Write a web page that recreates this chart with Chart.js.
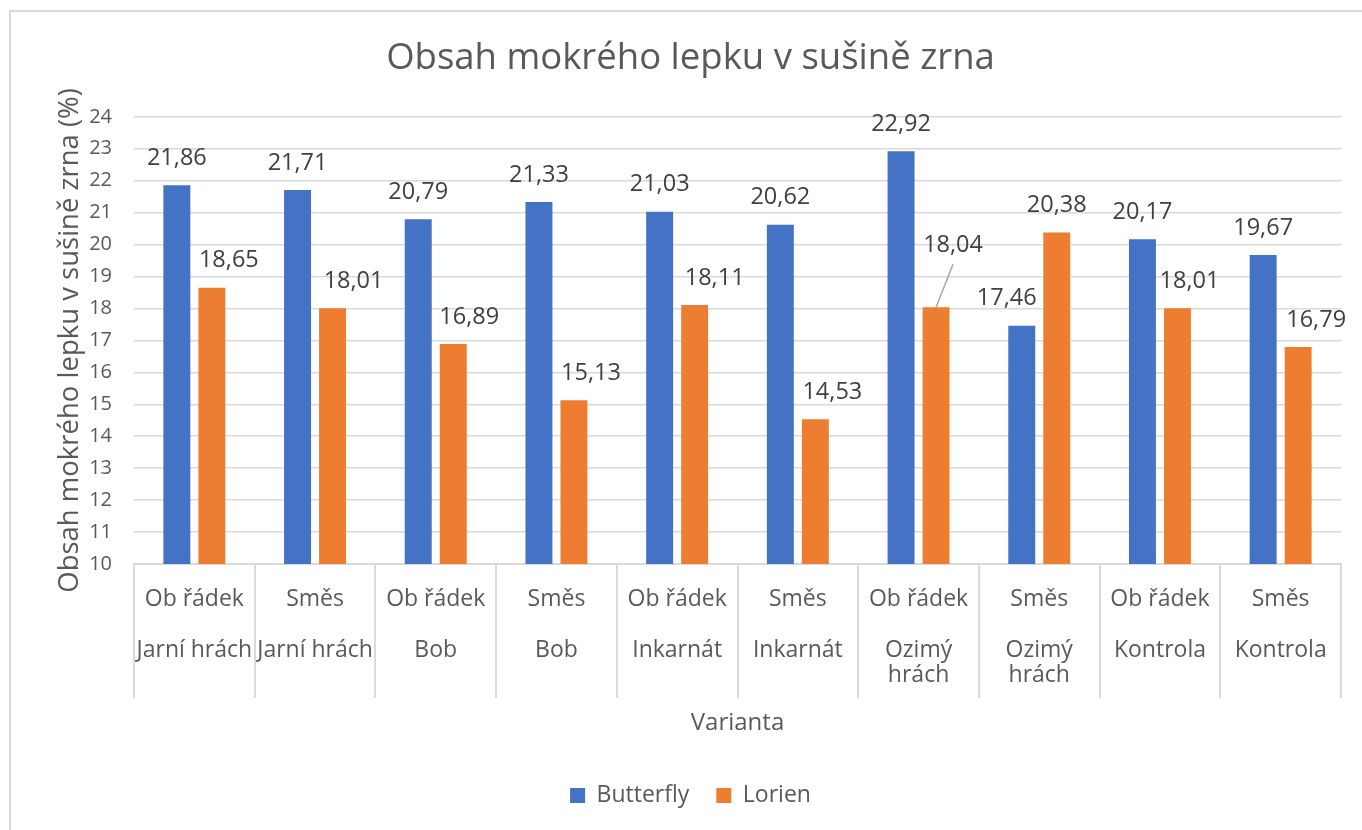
<!DOCTYPE html>
<html>
<head>
<meta charset="utf-8">
<title>Obsah mokrého lepku v sušině zrna</title>
<script src="https://cdn.jsdelivr.net/npm/chart.js@4.4.1/dist/chart.umd.min.js"></script>
<style>
  html, body { margin: 0; padding: 0; background: #fff; overflow: hidden; }
  #wrap { position: relative; width: 1362px; height: 830px; }
  #frame { position: absolute; left: 9px; top: 10px; width: 1380px; height: 850px; border: 2px solid #D9D9D9; }
  #chart1 { position: absolute; left: 0; top: 0; }
</style>
</head>
<body>
<div id="wrap">
  <div id="frame"></div>
  <canvas id="chart1" width="1362" height="830"></canvas>
</div>
<script>
// data
var treatments = ['Ob řádek', 'Směs', 'Ob řádek', 'Směs', 'Ob řádek', 'Směs', 'Ob řádek', 'Směs', 'Ob řádek', 'Směs'];
var crops = [['Jarní hrách'], ['Jarní hrách'], ['Bob'], ['Bob'], ['Inkarnát'], ['Inkarnát'],
             ['Ozimý', 'hrách'], ['Ozimý', 'hrách'], ['Kontrola'], ['Kontrola']];
var butterfly = [21.86, 21.71, 20.79, 21.33, 21.03, 20.62, 22.92, 17.46, 20.17, 19.67];
var lorien = [18.65, 18.01, 16.89, 15.13, 18.11, 14.53, 18.04, 20.38, 18.01, 16.79];
var yTicksMin = 10;
var yTicksMax = 24;

// label shifts (px) the way the labels sit in the original, [dx, dy]
var labelNudge = [
  [[0,0],[0,0],[0,0],[0,0],[0,0],[0,0],[0,0],[-15,0],[0,0],[0,0]],
  [[17,0],[21,0],[16,0],[17,0],[20,0],[17,0],[17,-35],[0,0],[12,0],[18,0]]
];

var FONT = '"Open Sans", "Noto Sans", sans-serif';
var GREY = '#595959';
var LINE = '#D9D9D9';

var labels = treatments.map(function(t, i) {
  return [t, ''].concat(crops[i]);
});

function fmt(v) {
  return v.toFixed(2).replace('.', ',');
}

var valueLabels = {
  id: 'valueLabels',
  afterDatasetsDraw: function(chart) {
    var ctx = chart.ctx;
    ctx.save();
    ctx.font = '23.5px ' + FONT;
    ctx.textAlign = 'center';
    ctx.textBaseline = 'middle';
    chart.data.datasets.forEach(function(ds, d) {
      chart.getDatasetMeta(d).data.forEach(function(bar, i) {
        var n = labelNudge[d][i];
        var x = bar.x + n[0];
        var y = bar.y - 27 + n[1];
        if (n[1] < 0) {
          ctx.strokeStyle = '#A6A6A6';
          ctx.lineWidth = 1.5;
          ctx.beginPath();
          ctx.moveTo(x, y + 19);
          ctx.lineTo(bar.x, bar.y);
          ctx.stroke();
        }
        ctx.fillStyle = '#404040';
        ctx.fillText(fmt(ds.data[i]), x, y);
      });
    });
    ctx.restore();
  }
};

// vertical separators between categories under the axis
var categoryDividers = {
  id: 'categoryDividers',
  afterDraw: function(chart) {
    var xs = chart.scales.x;
    var ctx = chart.ctx;
    var n = chart.data.labels.length;
    var step = (xs.right - xs.left) / n;
    ctx.save();
    ctx.strokeStyle = LINE;
    ctx.lineWidth = 2;
    ctx.beginPath();
    for (var i = 0; i <= n; i++) {
      var x = Math.round(xs.left + i * step);
      ctx.moveTo(x, chart.chartArea.bottom);
      ctx.lineTo(x, chart.chartArea.bottom + 134);
    }
    ctx.stroke();
    ctx.restore();
  }
};

var myChart = document.getElementById('chart1').getContext('2d');
var glutenChart = new Chart(myChart, {
  type: 'bar',
  data: {
    labels: labels,
    datasets: [{
      label: 'Butterfly',
      data: butterfly,
      backgroundColor: '#4472C4',
      categoryPercentage: 0.58,
      barPercentage: 0.77
    }, {
      label: 'Lorien',
      data: lorien,
      backgroundColor: '#ED7D31',
      categoryPercentage: 0.58,
      barPercentage: 0.77
    }]
  },
  options: {
    responsive: false,
    animation: false,
    layout: { padding: { left: 40, right: 21, top: 37, bottom: 13 } },
    plugins: {
      title: {
        display: true,
        text: 'Obsah mokrého lepku v sušině zrna',
        color: GREY,
        font: { family: FONT, size: 36.5, weight: 'normal' },
        padding: { top: 0, bottom: 36 }
      },
      legend: {
        position: 'bottom',
        labels: {
          color: GREY,
          font: { family: FONT, size: 23 },
          boxWidth: 15,
          boxHeight: 15,
          padding: 27
        }
      },
      tooltip: { enabled: false }
    },
    scales: {
      x: {
        grid: { display: false },
        border: { display: true, color: LINE, width: 2 },
        ticks: {
          color: GREY,
          font: { family: FONT, size: 23, lineHeight: 1.1 },
          maxRotation: 0,
          autoSkip: false,
          padding: 15
        },
        title: {
          display: true,
          text: 'Varianta',
          color: GREY,
          font: { family: FONT, size: 24 },
          padding: { top: 0, bottom: 19 }
        },
        afterFit: function(s) { s.height = 193; }
      },
      y: {
        min: yTicksMin,
        max: yTicksMax,
        ticks: {
          stepSize: 1,
          color: GREY,
          padding: 22,
          font: { family: FONT, size: 20 }
        },
        grid: { color: LINE, lineWidth: 1.5, drawTicks: false },
        border: { display: false },
        title: {
          display: true,
          text: 'Obsah mokrého lepku v sušině zrna (%)',
          color: GREY,
          font: { family: FONT, size: 27.5 },
          padding: { top: 14, bottom: 0 }
        },
        afterFit: function(s) { s.width = 94; }
      }
    }
  },
  plugins: [valueLabels, categoryDividers]
});
</script>
</body>
</html>
